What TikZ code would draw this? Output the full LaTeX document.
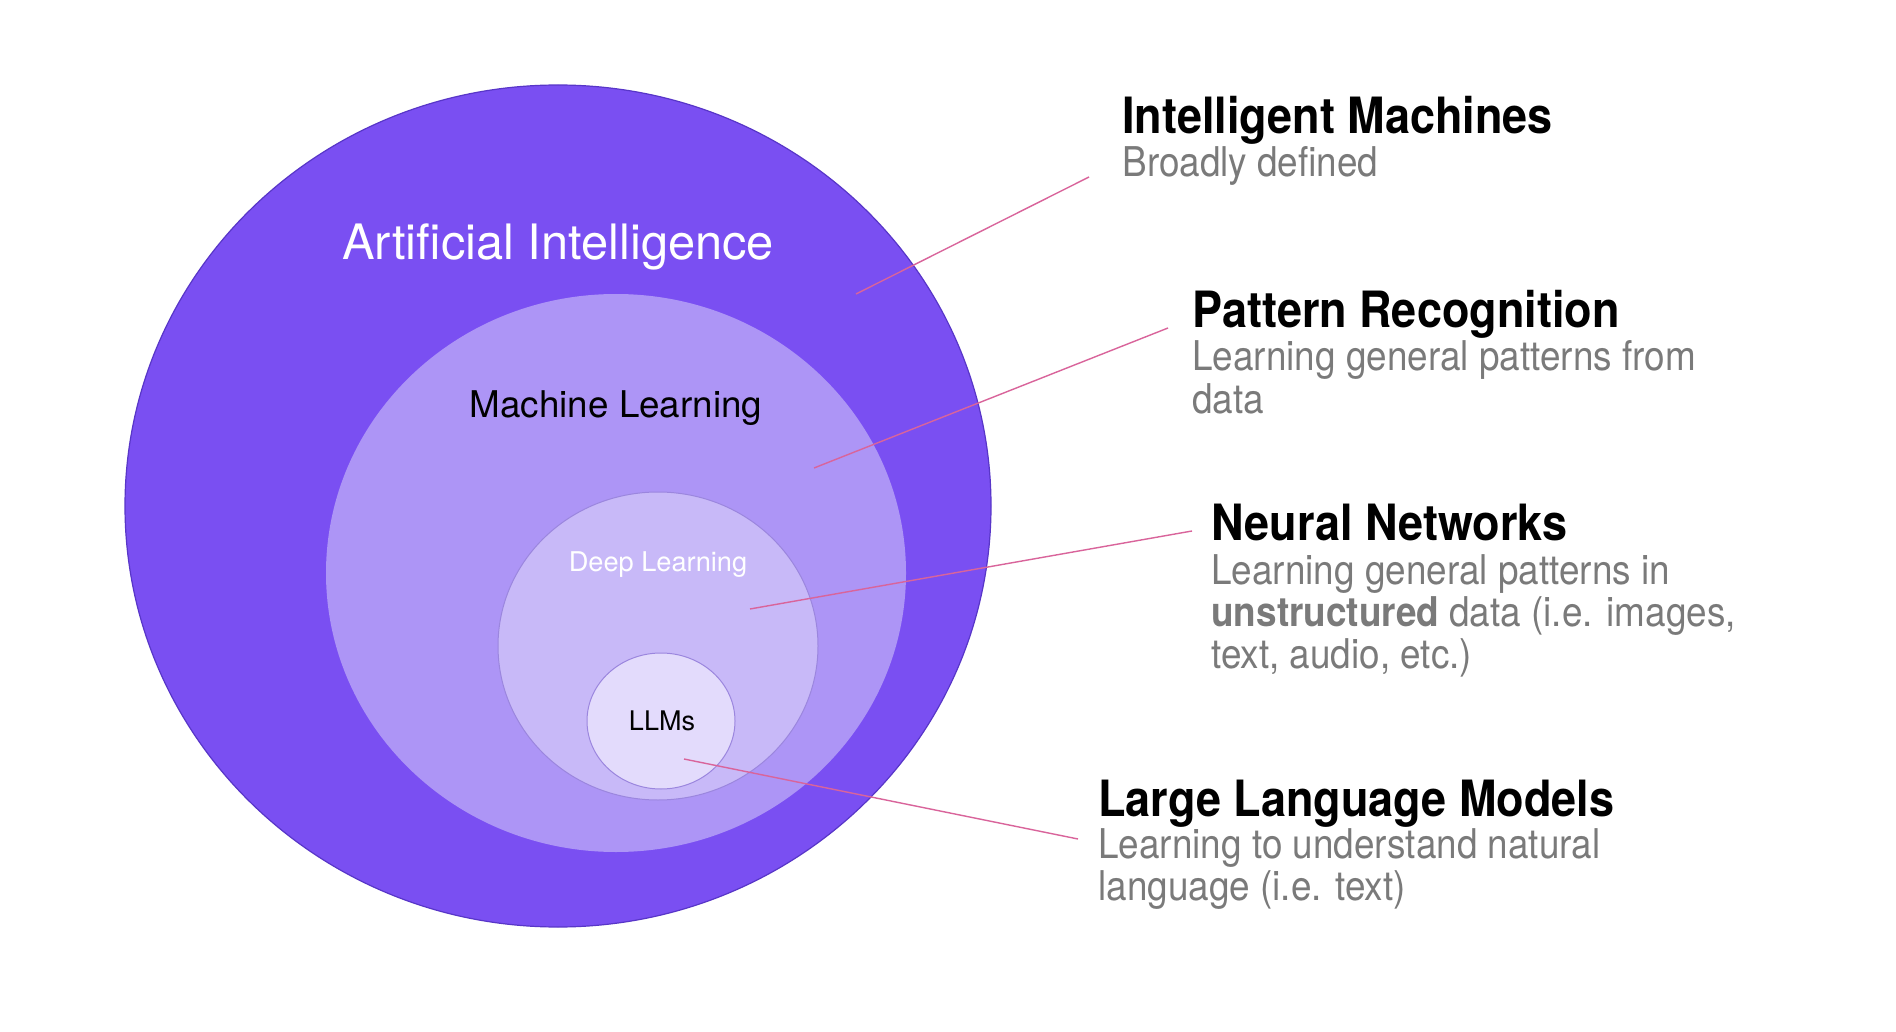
\documentclass[tikz,border=0pt]{standalone}
\usepackage{fontspec}
\setmainfont{TeX Gyre Heros}
\newfontfamily\condfont[FakeStretch=0.9]{TeX Gyre Heros}
\definecolor{aiviolet}{HTML}{7A4FF2}
\definecolor{mlviolet}{HTML}{AD95F6}
\definecolor{dlviolet}{HTML}{C8B9F8}
\definecolor{llmviolet}{HTML}{E3DBFC}
\definecolor{rimviolet}{HTML}{5836C8}
\definecolor{leaderpink}{HTML}{D9649B}
\definecolor{descgray}{HTML}{7A7A7A}
\begin{document}
\begin{tikzpicture}[x=0.5pt, y=-0.5pt,
  title/.style={anchor=base west, inner sep=0pt, font=\condfont\bfseries\fontsize{25}{25}\selectfont},
  desc/.style={anchor=base west, inner sep=0pt, text=descgray, font=\condfont\fontsize{20.5}{20.5}\selectfont},
  field/.style={anchor=base, inner sep=0pt},
  leader/.style={leaderpink, line width=0.7pt}]
\useasboundingbox[fill=white] (0,0) rectangle (1896,1032);
% nested fields
\draw[rimviolet, line width=0.6pt, fill=aiviolet] (558,506) ellipse [x radius=433, y radius=421];
\fill[mlviolet] (616,573) ellipse [x radius=290, y radius=279];
\draw[rimviolet!60, line width=0.5pt, fill=dlviolet] (658,646) ellipse [x radius=160, y radius=154];
\draw[rimviolet!60, line width=0.5pt, fill=llmviolet] (661,721) ellipse [x radius=74, y radius=68];
\node[field, text=white, font=\fontsize{24.4}{24.4}\selectfont] (ai) at (558,260) {Artificial Intelligence};
\node[field, font=\fontsize{18.4}{18.4}\selectfont] (ml) at (616,417) {Machine Learning};
\node[field, text=white, font=\fontsize{13.6}{13.6}\selectfont] (dl) at (658,571) {Deep Learning};
\node[field, font=\fontsize{13.5}{13.5}\selectfont] (llm) at (662,730) {LLMs};
% labels on the right
\node[title] (imtitle) at (1122,134) {Intelligent Machines};
\node[desc] (imdesc) at (1122,177) {Broadly defined};
\node[title] (prtitle) at (1192,328) {Pattern Recognition};
\node[desc] (prdesc) at (1192,371) {\begin{tabular}[t]{@{}l@{}}Learning general patterns from\\data\end{tabular}};
\node[title] (nntitle) at (1211,540) {Neural Networks};
\node[desc] (nndesc) at (1211,584) {\begin{tabular}[t]{@{}l@{}}Learning general patterns in\\\textbf{unstructured} data (i.e. images,\\text, audio, etc.)\end{tabular}};
\node[title] (lmtitle) at (1098,816) {Large Language Models};
\node[desc] (lmdesc) at (1098,858) {\begin{tabular}[t]{@{}l@{}}Learning to understand natural\\language (i.e. text)\end{tabular}};
% leader lines
\coordinate (aipin) at (856,294);
\coordinate (impin) at (1089,177);
\coordinate (mlpin) at (814,468);
\coordinate (prpin) at (1168,328);
\coordinate (dlpin) at (750,609);
\coordinate (nnpin) at (1192,531);
\coordinate (llmpin) at (684,759);
\coordinate (lmpin) at (1078,839);
\draw[leader] (aipin) -- (impin);
\draw[leader] (mlpin) -- (prpin);
\draw[leader] (dlpin) -- (nnpin);
\draw[leader] (llmpin) -- (lmpin);
\end{tikzpicture}
\end{document}
